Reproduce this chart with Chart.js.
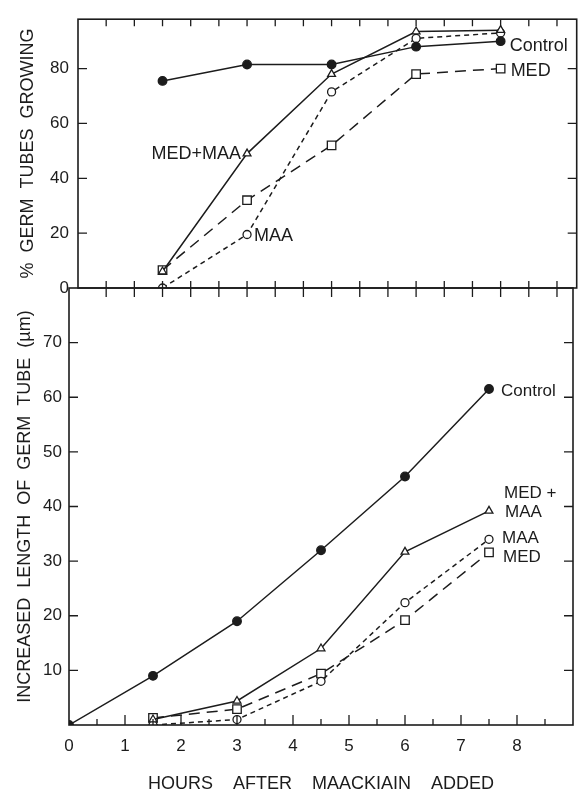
<!DOCTYPE html>
<html>
<head>
<meta charset="utf-8">
<script src="https://cdn.jsdelivr.net/npm/chart.js@4.4.0/dist/chart.umd.min.js"></script>
<style>
  body { margin: 0; background: #fff; }
  #wrap { position: relative; width: 584px; height: 799px; }
  #wrap canvas { position: absolute; left: 0; top: 0; }
</style>
</head>
<body>
<div id="wrap">
  <canvas id="growChart" width="584" height="799"></canvas>
  <canvas id="lengthChart" width="584" height="799"></canvas>
</div>
<script>
// sampling times (hours after maackiain added)
const hours = [1.5, 3, 4.5, 6, 7.5];
const hoursWithZero = [0, 1.5, 3, 4.5, 6, 7.5];

// top panel: % germ tubes growing
const growControl = [75.5, 81.5, 81.5, 88, 90];
const growMedMaa  = [6, 49, 78, 93.5, 94];
const growMaa     = [0, 19.5, 71.5, 91, 93];
const growMed     = [6.5, 32, 52, 78, 80];

// bottom panel: increased length of germ tube (um)
const lenControl = [0, 9, 19, 32, 45.5, 61.5];
const lenMedMaa  = [1, 4.4, 14, 31.7, 39.2];
const lenMaa     = [0, 1, 8, 22.4, 34];
const lenMed     = [1.3, 2.9, 9.4, 19.2, 31.6];

// tick values
const hourTicks = [0, 0.5, 1, 1.5, 2, 2.5, 3, 3.5, 4, 4.5, 5, 5.5, 6, 6.5, 7, 7.5, 8, 8.5, 9];
const hourLabels = [0, 1, 2, 3, 4, 5, 6, 7, 8];
const growTicks = [0, 20, 40, 60, 80];
const lenTicks = [10, 20, 30, 40, 50, 60, 70];

const ink = '#1c1c1c';
const font = "'Liberation Sans', Arial, sans-serif";

const pts = (xs, ys) => ys.map((v, i) => ({ x: xs[i], y: v }));

function series(data, style, dash) {
  return {
    data: data,
    borderColor: ink,
    borderWidth: 1.5,
    borderDash: dash || [],
    pointStyle: style.shape,
    pointRadius: style.r,
    pointBackgroundColor: style.fill,
    pointBorderColor: ink,
    pointBorderWidth: 1.3,
    tension: 0,
  };
}
const dot = { shape: 'circle', r: 4.3, fill: ink };
const tri = { shape: 'triangle', r: 4.5, fill: '#fff' };
const ring = { shape: 'circle', r: 4, fill: '#fff' };
const box = { shape: 'rect', r: 6, fill: '#fff' };

// frame and inward tick marks, placed by the scales
const frameTicks = {
  id: 'frameTicks',
  afterDraw(chart, args, o) {
    const { ctx, chartArea: a } = chart;
    const x = chart.scales.x, y = chart.scales.y;
    ctx.save();
    ctx.strokeStyle = ink;
    ctx.lineWidth = 1.6;
    ctx.strokeRect(a.left, a.top, a.right - a.left, a.bottom - a.top);
    ctx.lineWidth = 1.3;
    ctx.beginPath();
    x.ticks.forEach(t => {
      const px = x.getPixelForValue(t.value);
      if (px <= a.left + 1 || px >= a.right - 1) return;
      const big = Number.isInteger(t.value) ? o.bigExtra : 0;
      if (o.topIn) { ctx.moveTo(px, a.top); ctx.lineTo(px, a.top + o.topIn); }
      if (o.bottomIn || o.bottomOut) {
        ctx.moveTo(px, a.bottom - (o.bottomIn || 0) - big);
        ctx.lineTo(px, a.bottom + (o.bottomOut || 0));
      }
    });
    y.ticks.forEach(t => {
      const py = y.getPixelForValue(t.value);
      if (py <= a.top + 1 || py >= a.bottom - 1) return;
      ctx.moveTo(a.left, py); ctx.lineTo(a.left + o.side, py);
      ctx.moveTo(a.right, py); ctx.lineTo(a.right - o.side, py);
    });
    ctx.stroke();
    ctx.restore();
  }
};

// series names written beside their points
const pointLabels = {
  id: 'pointLabels',
  afterDatasetsDraw(chart, args, o) {
    const { ctx } = chart;
    ctx.save();
    ctx.fillStyle = ink;
    ctx.font = o.size + 'px ' + font;
    ctx.textBaseline = 'middle';
    o.items.forEach(it => {
      const p = chart.getDatasetMeta(it.ds).data[it.idx];
      ctx.textAlign = it.align || 'left';
      ctx.fillText(it.text, p.x + it.dx, p.y + it.dy);
    });
    ctx.restore();
  }
};

function yScale(min, max, values, width, title, titlePad, labelPad) {
  return {
    type: 'linear', min: min, max: max,
    afterBuildTicks: s => { s.ticks = values.map(v => ({ value: v })); },
    afterFit: s => { s.width = width; },
    grid: { display: false, drawTicks: false, tickLength: 0 },
    border: { display: false },
    ticks: { color: ink, padding: labelPad, font: { family: font, size: 17 } },
    title: { display: true, text: title, color: ink, padding: { top: titlePad, bottom: 0 },
             font: { family: font, size: 18 } }
  };
}

new Chart(document.getElementById('growChart'), {
  type: 'line',
  data: {
    datasets: [
      series(pts(hours, growControl), dot),
      series(pts(hours, growMedMaa), tri),
      series(pts(hours, growMaa), ring, [5, 4]),
      series(pts(hours, growMed), box, [11, 7]),
    ]
  },
  options: {
    responsive: false,
    animation: false,
    layout: { padding: { top: 14, right: 2, bottom: 511, left: 0 } },
    plugins: {
      legend: { display: false },
      tooltip: { enabled: false },
      frameTicks: { topIn: 7, bottomIn: 7, bottomOut: 9, side: 9, bigExtra: 0 },
      pointLabels: {
        size: 18,
        items: [
          { ds: 0, idx: 4, text: 'Control', dx: 9, dy: 5 },
          { ds: 3, idx: 4, text: 'MED', dx: 10, dy: 2 },
          { ds: 1, idx: 1, text: 'MED+MAA', dx: -6, dy: 0, align: 'right' },
          { ds: 2, idx: 1, text: 'MAA', dx: 7, dy: 2 },
        ]
      }
    },
    scales: {
      x: {
        type: 'linear', min: 0, max: 8.85,
        afterBuildTicks: s => { s.ticks = hourTicks.map(v => ({ value: v })); },
        afterFit: s => { s.height = 0; },
        grid: { display: false, drawTicks: false },
        border: { display: false },
        ticks: { display: false }
      },
      y: yScale(0, 98, growTicks, 78, '%  GERM  TUBES  GROWING', 17, 9)
    }
  },
  plugins: [frameTicks, pointLabels]
});

new Chart(document.getElementById('lengthChart'), {
  type: 'line',
  data: {
    datasets: [
      series(pts(hoursWithZero, lenControl), dot),
      series(pts(hours, lenMedMaa), tri),
      series(pts(hours, lenMaa), ring, [5, 4]),
      series(pts(hours, lenMed), box, [11, 7]),
    ]
  },
  options: {
    responsive: false,
    animation: false,
    layout: { padding: { top: 288, right: 7, bottom: 0, left: 0 } },
    plugins: {
      legend: { display: false },
      tooltip: { enabled: false },
      frameTicks: { bottomIn: 6, side: 9, bigExtra: 4 },
      pointLabels: {
        size: 17,
        items: [
          { ds: 0, idx: 5, text: 'Control', dx: 12, dy: 2 },
          { ds: 1, idx: 4, text: 'MED +', dx: 15, dy: -18 },
          { ds: 1, idx: 4, text: 'MAA', dx: 16, dy: 1 },
          { ds: 2, idx: 4, text: 'MAA', dx: 13, dy: -1 },
          { ds: 3, idx: 4, text: 'MED', dx: 14, dy: 5 },
        ]
      }
    },
    scales: {
      x: {
        type: 'linear', min: 0, max: 9,
        afterBuildTicks: s => { s.ticks = hourTicks.map(v => ({ value: v })); },
        afterFit: s => { s.height = 74; },
        grid: { display: false, drawTicks: false, tickLength: 0 },
        border: { display: false },
        ticks: {
          color: ink, padding: 11, autoSkip: false, maxRotation: 0,
          font: { family: font, size: 17 },
          callback: v => hourLabels.includes(v) ? String(v) : ''
        },
        title: { display: true, text: 'HOURS    AFTER    MAACKIAIN    ADDED', color: ink,
                 padding: { top: 0, bottom: 4 }, font: { family: font, size: 18 } }
      },
      y: yScale(0, 80, lenTicks, 69, 'INCREASED  LENGTH  OF  GERM  TUBE  (µm)', 14, 7)
    }
  },
  plugins: [frameTicks, pointLabels]
});
</script>
</body>
</html>
